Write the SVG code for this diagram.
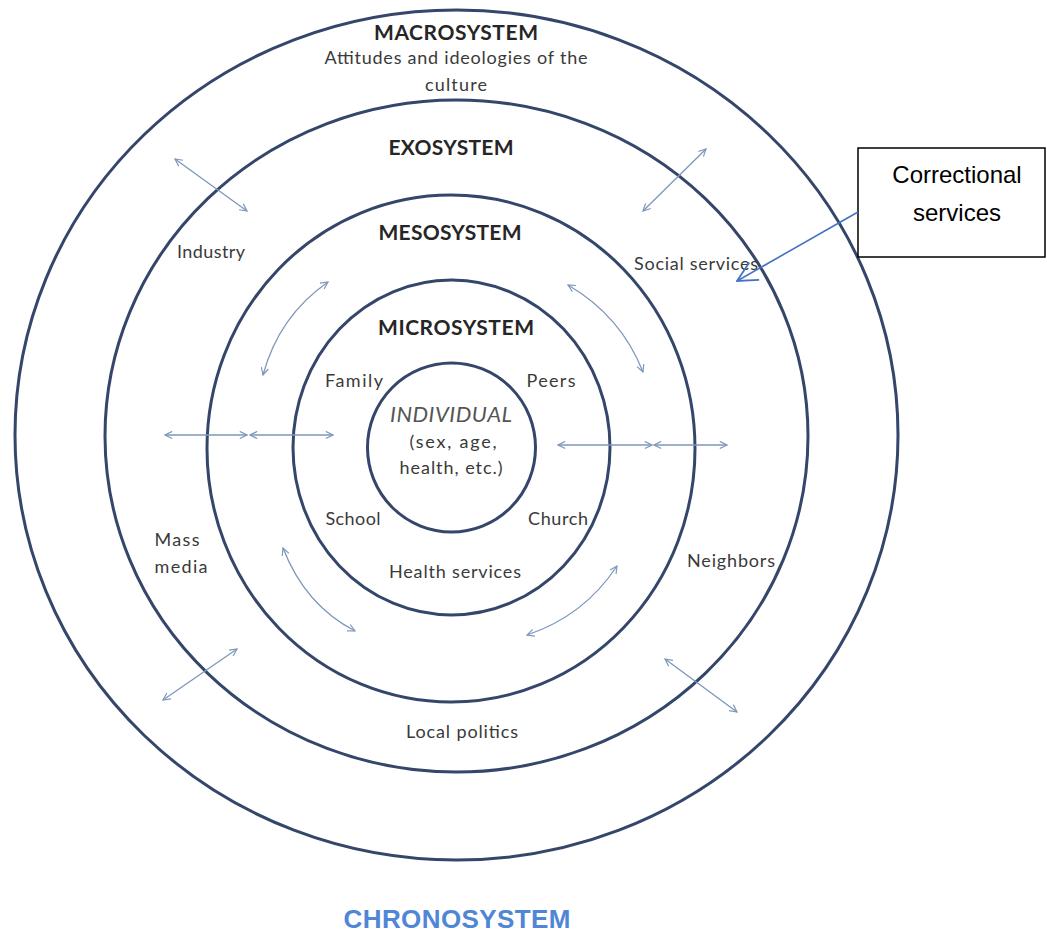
<svg xmlns="http://www.w3.org/2000/svg" width="1047" height="932" viewBox="0 0 1047 932">
<defs>
<style>
.ring{fill:none;stroke:#34466a;stroke-width:3}
.t{font-family:Lato,"Liberation Sans",sans-serif;font-size:18px;fill:#3a3a3a;text-anchor:middle}
.b{font-family:Lato,"Liberation Sans",sans-serif;font-size:21px;font-weight:bold;fill:#262626;text-anchor:middle}
.i{font-family:Lato,"Liberation Sans",sans-serif;font-size:22px;font-style:italic;fill:#555;text-anchor:middle}
.arr{fill:none;stroke:#7d97ba;stroke-width:1.3;marker-start:url(#ah);marker-end:url(#ah)}
.box{font-family:"Liberation Sans",Arial,sans-serif;font-size:24px;fill:#000;text-anchor:middle}
</style>
<marker id="ah" viewBox="0 0 10 10" refX="9" refY="5" markerWidth="9" markerHeight="9" markerUnits="userSpaceOnUse" orient="auto-start-reverse">
<path d="M1,1 L9,5 L1,9" fill="none" stroke="#7d97ba" stroke-width="1.3"/>
</marker>
<marker id="bh" viewBox="0 0 20 20" refX="19" refY="10" markerWidth="22" markerHeight="22" markerUnits="userSpaceOnUse" orient="auto">
<path d="M1,1 L19,10 L1,19" fill="none" stroke="#4472c4" stroke-width="1.6"/>
</marker>
</defs>
<rect width="1047" height="932" fill="#fff"/>

<g id="macrosystem">
<ellipse class="ring" cx="456.5" cy="435" rx="441.5" ry="425"/>
<text class="b" x="456" y="40" textLength="164">MACROSYSTEM</text>
<text class="t" x="456" y="64" textLength="263">Attitudes and ideologies of the</text>
<text class="t" x="456" y="91" textLength="62">culture</text>
</g>

<g id="exosystem">
<ellipse class="ring" cx="456.5" cy="436" rx="351.5" ry="336"/>
<text class="b" x="451" y="155" textLength="125">EXOSYSTEM</text>
<text class="t" x="211" y="258" textLength="68">Industry</text>
<text class="t" x="696" y="270" textLength="124">Social services</text>
<text class="t" x="177" y="546" textLength="45">Mass</text>
<text class="t" x="181" y="573" textLength="53">media</text>
<text class="t" x="731" y="567" textLength="88">Neighbors</text>
<text class="t" x="462" y="738" textLength="112">Local politics</text>
</g>

<g id="mesosystem">
<ellipse class="ring" cx="451" cy="448.5" rx="244" ry="253.5"/>
<text class="b" x="450" y="240" textLength="143">MESOSYSTEM</text>
</g>

<g id="microsystem">
<ellipse class="ring" cx="451.5" cy="447.5" rx="158.5" ry="167.5"/>
<text class="b" x="456" y="335" textLength="156">MICROSYSTEM</text>
<text class="t" x="354" y="387" textLength="58">Family</text>
<text class="t" x="551" y="387" textLength="49">Peers</text>
<text class="t" x="353" y="525" textLength="55">School</text>
<text class="t" x="558" y="525" textLength="60">Church</text>
<text class="t" x="455" y="578" textLength="132">Health services</text>
</g>

<g id="individual">
<ellipse class="ring" cx="451.5" cy="447.5" rx="84" ry="84.5"/>
<text class="i" x="451" y="422" textLength="122">INDIVIDUAL</text>
<text class="t" x="453" y="448" textLength="87">(sex, age,</text>
<text class="t" x="451" y="474" textLength="103">health, etc.)</text>
</g>

<g id="correctional-services">
<rect x="858" y="148" width="187" height="109" fill="#fff" stroke="#000" stroke-width="1.5"/>
<text class="box" x="957" y="183">Correctional</text>
<text class="box" x="957" y="221">services</text>
</g>

<g id="connectors">
<line class="arr" x1="165" y1="435" x2="247" y2="435"/>
<line class="arr" x1="250" y1="435" x2="333" y2="435"/>
<line class="arr" x1="558" y1="445" x2="652" y2="445"/>
<line class="arr" x1="654" y1="445" x2="727" y2="445"/>
<line class="arr" x1="175" y1="159" x2="247" y2="211"/>
<line class="arr" x1="706" y1="149" x2="643" y2="211"/>
<line class="arr" x1="237" y1="649" x2="163" y2="700"/>
<line class="arr" x1="665" y1="659" x2="737" y2="712"/>
<path class="arr" d="M328,282 Q279,316 263,375"/>
<path class="arr" d="M568,285 Q621,316 643,372"/>
<path class="arr" d="M283,548 Q305,605 355,631"/>
<path class="arr" d="M617,566 Q584,616 527,635"/>
<line x1="858" y1="212" x2="737" y2="281" stroke="#4472c4" stroke-width="1.6" marker-end="url(#bh)"/>
</g>

<g id="chronosystem">
<text x="457" y="928" font-family="'Liberation Sans',Arial,sans-serif" font-size="26" font-weight="bold" fill="#4f86d6" text-anchor="middle" textLength="227">CHRONOSYSTEM</text>
</g>
</svg>
